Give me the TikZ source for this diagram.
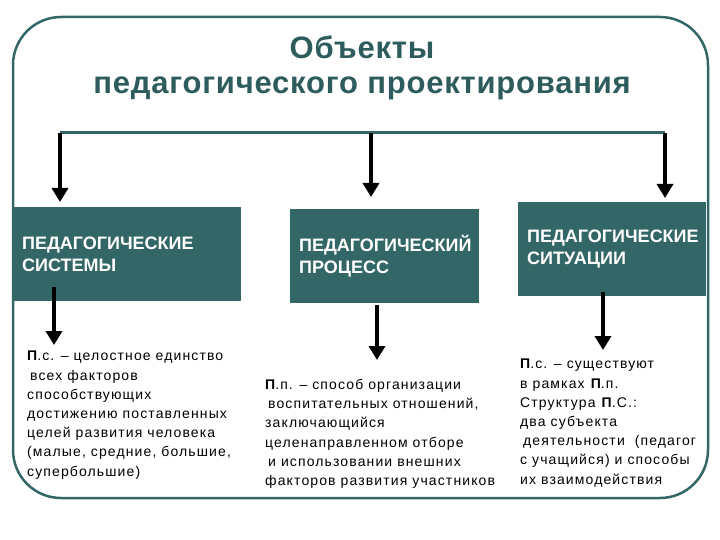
\documentclass[tikz,border=0pt]{standalone}
\usepackage{fontspec}
\setmainfont{Liberation Sans}
\newfontfamily\titlefont[LetterSpace=2.5]{Liberation Sans}
\newfontfamily\notefont[LetterSpace=8]{Liberation Sans}
\usetikzlibrary{arrows.meta, positioning}
\definecolor{slate}{HTML}{336666}
\tikzset{
	objbox/.style={fill=slate, text=white, anchor=north west, align=left,
		font=\bfseries\fontsize{18}{22}\selectfont,
		inner xsep=9pt, inner ysep=0pt, minimum height=94pt},
	note/.style={anchor=north west, inner sep=0pt, align=left,
		font=\notefont\fontsize{14}{19.2}\selectfont},
	arr/.style={->, line width=4pt},
}

\begin{document}
\begin{tikzpicture}[> = {Triangle[width=16pt, length=14pt]}, x=1pt, y=-1pt]
	\useasboundingbox (0,0) rectangle (720,540);
	
	% frame 
	\draw [slate, line width=2.5pt, rounded corners=48pt] (13,17) rectangle (708,498);
	
	% title
	\node [text=slate!90!black, align=center, font=\titlefont\bfseries\fontsize{31}{35}\selectfont]
		(title) at (362,68) {Объекты\\педагогического проектирования};
	
	% rule with the three arrows
	\coordinate (rl) at (60,133);
	\coordinate (rm) at (371,133);
	\coordinate (rr) at (665,133);
	\draw [slate, line width=3pt] (rl) -- (rr);
	
	% boxes
	\node [objbox, text width=210pt] (sys) at (13,207) {ПЕДАГОГИЧЕСКИЕ\\СИСТЕМЫ};
	\node [objbox, text width=171pt] (proc) at (290,209) {ПЕДАГОГИЧЕСКИЙ\\ПРОЦЕСС};
	\node [objbox, text width=170pt] (sit) at (518,202) {ПЕДАГОГИЧЕСКИЕ\\СИТУАЦИИ};
	
	\draw [arr, shorten >=5pt] (rl) -- (rl |- sys.north);
	\draw [arr, shorten >=12pt] (rm) -- (rm |- proc.north);
	\draw [arr, shorten >=4pt] (rr) -- (rr |- sit.north);
	
	% definitions
	\node [note] (sysTxt) at (27,351) {\textbf{П}.с. – целостное единство\\
		\hspace*{3pt}всех факторов\\
		способствующих\\
		достижению поставленных\\
		целей развития человека\\
		(малые, средние, большие,\\
		супербольшие)};
	\node [note] (procTxt) at (265,379) {\textbf{П}.п. – способ организации\\
		\hspace*{3pt}воспитательных отношений,\\
		заключающийся\\
		целенаправленном отборе\\
		\hspace*{3pt}и использовании внешних\\
		факторов развития участников};
	\node [note] (sitTxt) at (520,359) {\textbf{П}.с. – существуют\\
		в рамках \textbf{П}.п.\\
		Структура \textbf{П}.С.:\\
		два субъекта\\
		\hspace*{3pt}деятельности~ (педагог\\
		с учащийся) и способы\\
		их взаимодействия};
	
	\coordinate (sysOut) at (54,287);
	\coordinate (procOut) at (377,305);
	\coordinate (sitOut) at (603,292);
	\draw [arr, shorten >=6pt] (sysOut) -- (sysOut |- sysTxt.north);
	\draw [arr, shorten >=19pt] (procOut) -- (procOut |- procTxt.north);
	\draw [arr, shorten >=9pt] (sitOut) -- (sitOut |- sitTxt.north);
\end{tikzpicture}
\end{document}
